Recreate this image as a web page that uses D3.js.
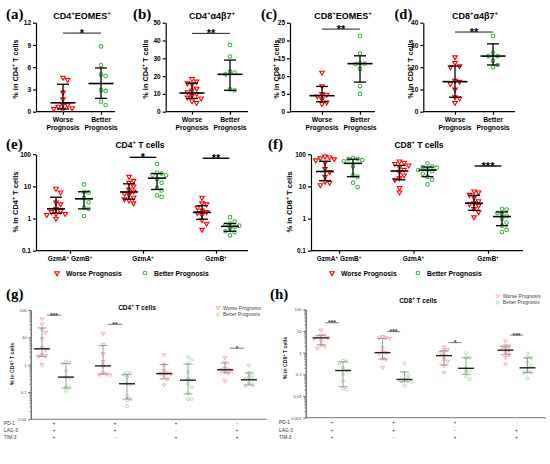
<!DOCTYPE html>
<html>
<head>
<meta charset="utf-8">
<script src="https://cdn.jsdelivr.net/npm/d3@7"></script>
<style>
  body { margin: 0; background: #fff; }
</style>
</head>
<body>
<svg id="fig" width="550" height="464"></svg>
<script>
// ---- data ----
const prog = ["Worse Prognosis", "Better Prognosis"];

// (a)-(d): one value per patient; stats are [median, low, high] per group
const aWorse = [4.6, 4.3, 2.6, 1.7, 1.0, 0.9, 0.7, 0.5, 0.4, 0.3];
const aBetter = [8.8, 6.3, 5.0, 4.8, 2.9, 2.8, 1.35, 0.9];
const aStats = [[1.2, 0.36, 3.7], [3.8, 1.8, 5.9]];

const bWorse = [18.5, 17, 16, 15.5, 13, 12, 11, 10, 9, 8, 7.5, 6, 5];
const bBetter = [37.5, 31, 22.5, 22, 21, 12.5, 12];
const bStats = [[10.5, 7.5, 16], [21, 12, 29]];

const cWorse = [11, 7.2, 5, 4.8, 4.3, 3.5, 2.6, 2.2];
const cBetter = [21.3, 16.3, 13.6, 13.5, 13.4, 12, 7.2, 5];
const cStats = [[4.5, 2.8, 7.1], [13.5, 8.3, 15.7]];

const dWorse = [24.5, 22, 20.5, 20, 14, 13.5, 12.5, 10, 6.5, 6, 4];
const dBetter = [34, 26.5, 25, 25, 23, 21, 20];
const dStats = [[13.5, 6.5, 20.5], [25, 21, 30.5]];

// significance: [label, value where the bar sits]
const aSig = ["*", 10.6];
const bSig = ["**", 44];
const cSig = ["**", 23.2];
const dSig = ["**", 35.8];

// (e)-(f): granzyme subsets
const gzmCats = ["GzmA^+ GzmB^+", "GzmA^+", "GzmB^+"];

const eWorse = [
  [8.5, 6.5, 3.2, 2.8, 2.0, 1.7, 1.6, 1.4, 1.4, 1.3, 1.0],
  [20, 15, 13, 10, 8, 7, 6, 5.5, 4.5, 4, 3.7, 3],
  [4.5, 3.0, 2.8, 2.2, 1.8, 1.6, 1.5, 1.3, 0.9, 0.7, 0.45]
];
const eBetter = [
  [11.5, 6.8, 6.5, 4.3, 3.2, 2.2, 2.0, 1.2],
  [50, 27, 25, 23, 22, 17, 13, 9, 7.5, 5.2, 4.7],
  [1.1, 0.8, 0.7, 0.65, 0.6, 0.55, 0.5, 0.4, 0.38, 0.3]
];
const eStatsW = [[2.0, 1.45, 4.6], [6.7, 4.0, 12], [1.55, 0.95, 2.5]];
const eStatsB = [[4.1, 2.0, 6.8], [18, 8, 25], [0.57, 0.4, 0.7]];
const eSig = [[1, "*", 80], [2, "**", 75]];

const fWorse = [
  [85, 80, 75, 70, 65, 55, 35, 28, 20, 14, 13, 11],
  [60, 55, 50, 45, 40, 33, 28, 22, 18, 16, 9, 6.5],
  [7, 6.5, 5.5, 4.5, 3.5, 3, 2.8, 2.5, 2, 1.6, 1.1]
];
const fBetter = [
  [75, 72, 70, 65, 60, 42, 22, 20, 13, 9.5],
  [52, 42, 40, 38, 34, 32, 30, 25, 20, 16, 11.5],
  [2, 1.9, 1.5, 1.4, 1.2, 1.0, 0.75, 0.6, 0.45, 0.38]
];
const fStatsW = [[29, 15, 60], [30, 16, 45], [3.0, 1.8, 5.3]];
const fStatsB = [[52, 20, 70], [32, 20, 40], [1.15, 0.6, 1.6]];
const fSig = [[2, "***", 43]];

// (g)-(h): checkpoint combinations
const ckRows = ["PD-1", "LAG-3", "TIM-3"];
const ckSigns = [["+", "+", "+"], ["+", "+", "-"], ["+", "-", "+"], ["-", "+", "+"]];

const gWorse = [
  [48, 30, 20, 15, 9, 4.2, 3.5, 2.3, 2.1, 2.0, 1.0],
  [14, 5.5, 2.5, 1.3, 0.9, 0.5, 0.45, 0.43, 0.42],
  [2.3, 1.0, 0.6, 0.5, 0.48, 0.45, 0.4, 0.3, 0.18],
  [1.8, 1.2, 0.75, 0.68, 0.65, 0.6, 0.55, 0.5, 0.25]
];
const gBetter = [
  [1.3, 1.2, 1.1, 0.6, 0.35, 0.32, 0.15, 0.14, 0.11],
  [0.5, 0.5, 0.45, 0.35, 0.2, 0.19, 0.07, 0.055, 0.05, 0.03],
  [1.9, 1.5, 1.1, 0.55, 0.3, 0.28, 0.2, 0.15, 0.09, 0.055, 0.055],
  [0.95, 0.5, 0.4, 0.35, 0.3, 0.28, 0.22, 0.18, 0.17]
];
const gStatsW = [[3.8, 2.0, 22], [0.9, 0.45, 5], [0.47, 0.3, 1.0], [0.65, 0.5, 1.15]];
const gStatsB = [[0.35, 0.14, 1.1], [0.2, 0.055, 0.43], [0.27, 0.085, 1.05], [0.28, 0.18, 0.5]];
const gSig = [[0, "***", 65], [1, "**", 30], [3, "*", 4]];

const hWorse = [
  [11, 6.5, 6.0, 5.5, 4.8, 4.5, 3.5, 2.2, 2.0, 1.6],
  [5.5, 5, 4.8, 4.5, 1.7, 1.1, 1.0, 0.9, 0.55, 0.5, 0.2],
  [1.8, 1.4, 1.2, 1.0, 0.75, 0.5, 0.4, 0.25, 0.12],
  [3.5, 2.2, 2.0, 1.8, 1.5, 1.3, 1.0, 0.8, 0.6, 0.3]
];
const hBetter = [
  [0.42, 0.4, 0.3, 0.2, 0.15, 0.1, 0.05, 0.022, 0.02],
  [0.32, 0.12, 0.085, 0.06, 0.055, 0.05, 0.045, 0.03],
  [0.95, 0.6, 0.58, 0.2, 0.15, 0.13, 0.08, 0.06],
  [0.9, 0.6, 0.58, 0.35, 0.25, 0.2, 0.13, 0.12, 0.12, 0.065]
];
const hStatsW = [[4.8, 2.3, 6.3], [1.0, 0.5, 4.5], [0.73, 0.27, 1.2], [1.3, 0.8, 2.0]];
const hStatsB = [[0.15, 0.027, 0.38], [0.058, 0.045, 0.13], [0.19, 0.1, 0.58], [0.2, 0.12, 0.58]];
const hSig = [[0, "***", 24], [1, "***", 9.3], [2, "*", 2.9], [3, "***", 6.5]];

// ---- drawing ----
const svg = d3.select("#fig");
const FONT = "'Liberation Sans', Arial, Helvetica, sans-serif";
const SERIF = "'Liberation Serif', 'Times New Roman', serif";

svg.append("rect").attr("width", 550).attr("height", 464).attr("fill", "#fff");

const bold = { red: "#ff0000", green: "#45b549", tri: 9, r: 1.8, sw: 1.1, gap: 4.6,
  bar: "#000", med: "#000", barW: 1.3, medW: 1.6 };
const pale = { red: "#f49a9a", green: "#9ad69a", tri: 6, r: 1.5, sw: 0.8, gap: 3.6,
  bar: "#888", med: "#222", barW: 0.8, medW: 1.4 };

// "CD4^+ T cells" -> text with raised "+"
function rich(t, str, fs) {
  let raised = false;
  str.split(/(\^.)/).forEach(p => {
    if (!p) return;
    if (p[0] === "^") {
      t.append("tspan").attr("dy", -fs * 0.38).attr("font-size", fs * 0.68).text(p[1]);
      raised = true;
    } else {
      const s = t.append("tspan").text(p);
      if (raised) { s.attr("dy", fs * 0.38); raised = false; }
    }
  });
  return t;
}

function label(x, y, str, fs, o = {}) {
  const t = svg.append("text").attr("x", x).attr("y", y)
    .attr("font-family", o.family || FONT).attr("font-size", fs)
    .attr("font-weight", o.weight || "bold").attr("fill", o.fill || "#000")
    .attr("text-anchor", o.anchor || "middle");
  return rich(t, str, fs);
}

function yTitle(x, y, str, fs, fill) {
  const t = svg.append("text").attr("transform", `translate(${x},${y}) rotate(-90)`)
    .attr("font-family", FONT).attr("font-size", fs).attr("font-weight", "bold")
    .attr("fill", fill || "#000").attr("text-anchor", "middle");
  rich(t, str, fs);
}

function mark(kind, x, y, st) {
  if (kind === 0) {
    svg.append("path").attr("d", d3.symbol(d3.symbolTriangle, st.tri)())
      .attr("transform", `translate(${x},${y}) rotate(180)`)
      .attr("fill", "none").attr("stroke", st.red).attr("stroke-width", st.sw);
  } else {
    svg.append("circle").attr("cx", x).attr("cy", y).attr("r", st.r)
      .attr("fill", "none").attr("stroke", st.green).attr("stroke-width", st.sw);
  }
}

// simple swarm: each point takes the nearest free slot beside the column
function swarm(vals, cx, y, kind, st) {
  const pts = vals.map(v => ({ py: y(v) })).sort((a, b) => a.py - b.py);
  const done = [];
  pts.forEach(p => {
    p.px = cx;
    for (let k = 0; k < 40; k++) {
      const off = Math.ceil(k / 2) * (k % 2 ? 1 : -1) * st.gap;
      if (done.every(q => Math.hypot(q.px - cx - off, q.py - p.py) >= st.gap * 0.98)) {
        p.px = cx + off;
        break;
      }
    }
    done.push(p);
  });
  done.forEach(p => mark(kind, p.px, p.py, st));
}

function summary(cx, y, s, st, capH, medH) {
  const [med, lo, hi] = s;
  const line = (x1, x2, y1, y2, c, w) => svg.append("line")
    .attr("x1", x1).attr("x2", x2).attr("y1", y1).attr("y2", y2)
    .attr("stroke", c).attr("stroke-width", w);
  line(cx, cx, y(lo), y(hi), st.bar, st.barW);
  line(cx - capH, cx + capH, y(lo), y(lo), st.bar, st.barW);
  line(cx - capH, cx + capH, y(hi), y(hi), st.bar, st.barW);
  line(cx - medH, cx + medH, y(med), y(med), st.med, st.medW);
}

function sigBar(x1, x2, yy, txt, fs, color, w) {
  svg.append("line").attr("x1", x1).attr("x2", x2).attr("y1", yy).attr("y2", yy)
    .attr("stroke", color).attr("stroke-width", w);
  svg.append("text").attr("x", (x1 + x2) / 2).attr("y", yy + fs * 0.36)
    .attr("font-family", FONT).attr("font-size", fs).attr("font-weight", "bold")
    .attr("fill", color).attr("text-anchor", "middle").text(txt);
}

function styleAxis(g, fs, color, w) {
  g.select(".domain").attr("stroke", color).attr("stroke-width", w);
  g.selectAll(".tick line").attr("stroke", color).attr("stroke-width", w);
  g.selectAll(".tick text").attr("font-family", FONT).attr("font-size", fs)
    .attr("font-weight", "bold").attr("fill", color);
}

// ---- (a)-(d) ----
function smallPanel(p) {
  const y = d3.scaleLinear().domain([0, p.max]).range([111.7, 22.7]);
  const x = d3.scalePoint().domain(prog).range(p.cats);

  label(p.lx, 19, p.label, p.lfs || 15, { family: SERIF, anchor: "start" });
  label(p.tx, 18.5, p.title, 9);
  yTitle(p.ytx, 69, p.ytitle, 7.3);

  const ya = svg.append("g").attr("transform", `translate(${p.ax},0)`)
    .call(d3.axisLeft(y).tickValues(d3.range(0, p.max + 0.01, p.step))
      .tickSize(3).tickSizeOuter(0).tickPadding(2));
  styleAxis(ya, 6.5, "#000", 1.2);

  svg.append("line").attr("x1", p.ax).attr("x2", p.ex).attr("y1", 111.7).attr("y2", 111.7)
    .attr("stroke", "#000").attr("stroke-width", 1.2);
  const xa = svg.append("g").attr("transform", "translate(0,111.7)")
    .call(d3.axisBottom(x).tickSize(3).tickSizeOuter(0).tickFormat(() => ""));
  xa.select(".domain").remove();
  styleAxis(xa, 6.5, "#000", 1.2);

  prog.forEach(c => {
    const [w1, w2] = c.split(" ");
    label(x(c), 121.5, w1, 6.8);
    label(x(c), 130, w2, 6.8);
  });

  swarm(p.worse, x(prog[0]), y, 0, bold);
  swarm(p.better, x(prog[1]), y, 1, bold);
  summary(x(prog[0]), y, p.stats[0], bold, 6, 12.5);
  summary(x(prog[1]), y, p.stats[1], bold, 6, 12.5);

  sigBar(x(prog[0]), x(prog[1]), y(p.sig[1]), p.sig[0], 11, "#000", 0.9);
}

smallPanel({ label: "(a)", lx: 6, title: "CD4^+EOMES^+", tx: 82, ax: 36, ex: 115,
  cats: [63, 101], max: 12, step: 3, ytitle: "% in CD4^+ T cells", ytx: 18,
  worse: aWorse, better: aBetter, stats: aStats, sig: aSig });
smallPanel({ label: "(b)", lx: 133, title: "CD4^+α4β7^+", tx: 212, ax: 165.7, ex: 248,
  cats: [192, 230], max: 50, step: 10, ytitle: "% in CD4^+ T cells", ytx: 148,
  worse: bWorse, better: bBetter, stats: bStats, sig: bSig });
smallPanel({ label: "(c)", lx: 261, lfs: 14.5, title: "CD8^+EOMES^+", tx: 343, ax: 290, ex: 375,
  cats: [322, 360], max: 25, step: 5, ytitle: "% in CD8^+ T cells", ytx: 279,
  worse: cWorse, better: cBetter, stats: cStats, sig: cSig });
smallPanel({ label: "(d)", lx: 394.5, lfs: 14.5, title: "CD8^+α4β7^+", tx: 475, ax: 423.3, ex: 515,
  cats: [455, 493], max: 40, step: 10, ytitle: "% in CD8^+ T cells", ytx: 413,
  worse: dWorse, better: dBetter, stats: dStats, sig: dSig });

// ---- (e)-(f) ----
function gzmPanel(p) {
  const y = d3.scaleLog().domain([0.1, 100]).range([250.7, 154.2]);
  const x = d3.scalePoint().domain(gzmCats).range(p.cats);

  label(p.lx, 149, p.label, 15, { family: SERIF, anchor: "start" });
  label(p.tx, 147.5, p.title, 8.5);
  yTitle(p.ytx, 202, p.ytitle, 7.5);

  const ya = svg.append("g").attr("transform", `translate(${p.ax},0)`)
    .call(d3.axisLeft(y).tickValues([0.1, 1, 10, 100]).tickFormat(d3.format("~g"))
      .tickSize(3).tickSizeOuter(0).tickPadding(2));
  styleAxis(ya, 6.5, "#000", 1.2);

  svg.append("line").attr("x1", p.ax).attr("x2", p.ex).attr("y1", 250.7).attr("y2", 250.7)
    .attr("stroke", "#000").attr("stroke-width", 1.2);
  const xa = svg.append("g").attr("transform", "translate(0,250.7)")
    .call(d3.axisBottom(x).tickSize(3).tickSizeOuter(0).tickFormat(() => ""));
  xa.select(".domain").remove();
  styleAxis(xa, 6.5, "#000", 1.2);
  gzmCats.forEach(c => label(x(c), 261, c, 6.5));

  gzmCats.forEach((c, i) => {
    const cx = x(c);
    swarm(p.worse[i], cx - p.sub, y, 0, bold);
    swarm(p.better[i], cx + p.sub, y, 1, bold);
    summary(cx - p.sub, y, p.statsW[i], bold, 6, 9);
    summary(cx + p.sub, y, p.statsB[i], bold, 6, 9);
  });

  p.sig.forEach(([i, txt, v]) => {
    const cx = x(gzmCats[i]);
    sigBar(cx - p.sub * 0.95, cx + p.sub * 0.95, y(v), txt, 11, "#000", 1.4);
  });

  mark(0, p.legend[0], 273, bold);
  label(p.legend[0] + 9, 275.5, prog[0], 6.8, { anchor: "start" });
  mark(1, p.legend[1], 273, bold);
  label(p.legend[1] + 9, 275.5, prog[1], 6.8, { anchor: "start" });
}

gzmPanel({ label: "(e)", lx: 6, title: "CD4^+ T cells", tx: 140, ax: 36, ex: 248,
  cats: [70, 216], sub: 14, ytitle: "% in CD4^+ T cells", ytx: 18, legend: [57, 145],
  worse: eWorse, better: eBetter, statsW: eStatsW, statsB: eStatsB, sig: eSig });
gzmPanel({ label: "(f)", lx: 268, title: "CD8^+ T cells", tx: 419, ax: 311, ex: 523,
  cats: [339, 488], sub: 14, ytitle: "% in CD8^+ T cells", ytx: 292, legend: [332, 418],
  worse: fWorse, better: fBetter, statsW: fStatsW, statsB: fStatsB, sig: fSig });

// ---- (g)-(h) ----
function ckPanel(p) {
  const y = d3.scaleLog().domain([p.min, 100]).range([p.bot, p.top]);
  const idx = d3.range(ckSigns.length);
  const x = d3.scalePoint().domain(idx).range(p.groups);

  label(p.lx, 298.5, p.label, 15, { family: SERIF, anchor: "start" });
  label(p.tx, p.ty, p.title, 6.5);
  yTitle(p.ytx, p.yty, p.ytitle, 5.2, "#222");

  const decades = d3.range(Math.round(Math.log10(p.min)), 3).map(e => Math.pow(10, e));
  const minor = [];
  decades.slice(0, -1).forEach(d => d3.range(2, 10).forEach(k => minor.push(d * k)));
  const ym = svg.append("g").attr("transform", `translate(${p.ax},0)`)
    .call(d3.axisLeft(y).tickValues(minor).tickSize(1.5).tickSizeOuter(0).tickFormat(() => ""));
  styleAxis(ym, 4.5, "#555", 0.6);
  const ya = svg.append("g").attr("transform", `translate(${p.ax},0)`)
    .call(d3.axisLeft(y).tickValues(decades).tickFormat(d3.format("~g"))
      .tickSize(2.5).tickSizeOuter(0).tickPadding(1.5));
  styleAxis(ya, 4.3, "#444", 0.8);
  ya.selectAll(".tick text").attr("font-weight", "normal");

  svg.append("line").attr("x1", p.ax).attr("x2", p.ex).attr("y1", p.bot).attr("y2", p.bot)
    .attr("stroke", "#777").attr("stroke-width", 1);

  ckRows.forEach((r, j) => {
    label(p.rowx, p.rowy[j] + 1.7, r, 4.8, { anchor: "start", weight: "normal", fill: "#333" });
    idx.forEach(i => label(x(i), p.rowy[j] + 1.7, ckSigns[i][j], 5, { weight: "normal", fill: "#333" }));
  });

  idx.forEach(i => {
    const cx = x(i);
    swarm(p.worse[i], cx - p.sub, y, 0, pale);
    swarm(p.better[i], cx + p.sub, y, 1, pale);
    summary(cx - p.sub, y, p.statsW[i], pale, 4.5, 8);
    summary(cx + p.sub, y, p.statsB[i], pale, 4.5, 8);
  });

  p.sig.forEach(([i, txt, v]) => {
    const cx = x(i);
    sigBar(cx - p.sub * 0.6, cx + p.sub * 0.6, y(v), txt, 7, "#444", 0.7);
  });

  mark(0, p.legend[0], p.legend[1], pale);
  label(p.legend[0] + 5, p.legend[1] + 1.8, prog[0], 5, { anchor: "start", weight: "normal", fill: "#444" });
  mark(1, p.legend[0], p.legend[1] + 6.6, pale);
  label(p.legend[0] + 5, p.legend[1] + 8.4, prog[1], 5, { anchor: "start", weight: "normal", fill: "#444" });
}

ckPanel({ label: "(g)", lx: 6, title: "CD4^+ T cells", tx: 137, ty: 309.5, ax: 30.7, ex: 267,
  top: 310, bot: 419.3, min: 0.01, groups: [54, 237], sub: 12,
  ytitle: "% in CD4^+ T cells", ytx: 14, yty: 364, rowx: 4, rowy: [423.3, 430.7, 437.7],
  legend: [218, 307.7],
  worse: gWorse, better: gBetter, statsW: gStatsW, statsB: gStatsB, sig: gSig });
ckPanel({ label: "(h)", lx: 270, title: "CD8^+ T cells", tx: 418, ty: 302.7, ax: 305.7, ex: 546,
  top: 309.3, bot: 417.7, min: 0.001, groups: [332, 516.5], sub: 11,
  ytitle: "% in CD8^+ T cells", ytx: 287, yty: 358, rowx: 279, rowy: [422.7, 430, 437.3],
  legend: [497.7, 296],
  worse: hWorse, better: hBetter, statsW: hStatsW, statsB: hStatsB, sig: hSig });
</script>
</body>
</html>
